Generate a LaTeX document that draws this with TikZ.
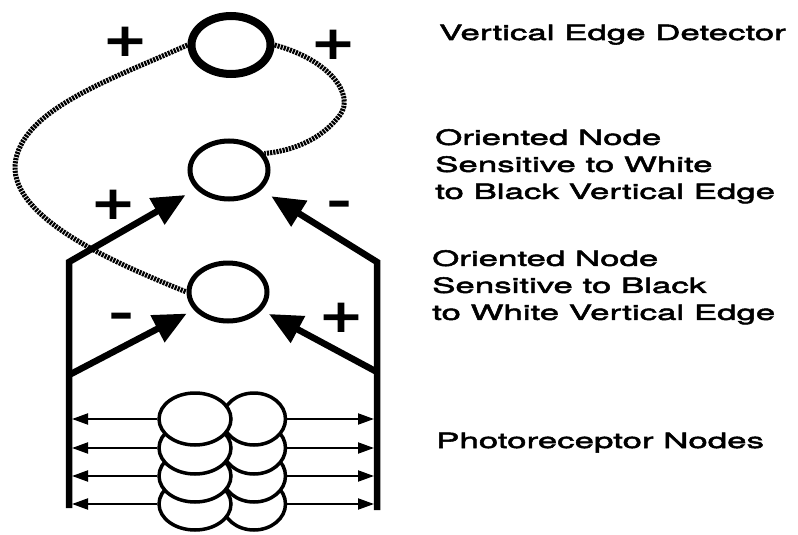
\documentclass[tikz,border=0pt]{standalone}
\usepackage{fontspec}
\setmainfont[FakeStretch=1.66, FakeBold=2.5]{TeX Gyre Heros}
\newfontfamily\signfont[FakeStretch=1.2, FakeBold=2.5]{TeX Gyre Heros}
\usepackage{tikz}
\usetikzlibrary{arrows.meta, shapes.geometric}

\begin{document}
\begin{tikzpicture}[x=1pt, y=-1pt, >={Triangle[length=33pt, width=29pt]},
  detector/.style={draw, ellipse, line width=8pt, minimum width=79pt, minimum height=58pt},
  oriented/.style={draw, ellipse, line width=5pt, minimum width=78pt, minimum height=58pt},
  receptor/.style={draw, ellipse, fill=white, line width=3.5pt, minimum height=52pt},
  feed/.style={line width=6.5pt, line join=miter, ->},
  relay/.style={line width=2pt, -{Triangle[length=16pt, width=11pt]}, shorten >=3pt},
  hatch/.style={line width=5pt, dash pattern=on 2.2pt off 1pt},
  sign/.style={font=\signfont\fontsize{62}{62}\selectfont, inner sep=0pt},
  caption/.style={inner sep=0pt, align=left, font=\fontsize{21}{27}\selectfont}]
  \useasboundingbox (0,0) rectangle (798,535);

  % Nodes
  \node[detector] (det) at (231,45) {};
  \node[oriented] (wb) at (229,170) {};
  \node[oriented] (bw) at (228,292) {};

  % Photoreceptors (bottom row first)
  \foreach \r/\y in {4/504, 3/476, 2/448, 1/419} {
    \node[receptor, minimum width=63pt] (pr\r) at (254,\y) {};
    \node[receptor, minimum width=72pt] (pl\r) at (195,\y) {};
  }

  % Frame corners
  \coordinate (ltop) at (69,262);
  \coordinate (lmid) at (69,375);
  \coordinate (lbot) at (69,508);
  \coordinate (rtop) at (377,262);
  \coordinate (rmid) at (377,372);
  \coordinate (rbot) at (377,510);

  % Photoreceptor outputs
  \foreach \r in {1,...,4} {
    \draw[relay] (pl\r.west) -- (pl\r.west -| lbot);
    \draw[relay] (pr\r.east) -- (pr\r.east -| rbot);
  }

  % Feed-forward paths
  \draw[feed, shorten >=12pt] (lbot) -- (ltop) -- (wb);
  \draw[feed, shorten >=12pt] (rbot) -- (rtop) -- (wb);
  \draw[feed, shorten >=8pt] (lmid) -- (bw);
  \draw[feed, shorten >=8pt] (rmid) -- (bw);

  % Feedback to the detector
  \draw[hatch] (det.west) .. controls (110,80) and (20,110) .. (15,165)
    .. controls (12,220) and (120,265) .. (bw.west);
  \draw[hatch] (det.east) .. controls (330,60) and (355,95) .. (340,115)
    .. controls (325,135) and (300,150) .. (wb.25);

  % Signs
  \node[sign] (sdl) at (125,42) {+};
  \node[sign] (sdr) at (333,45) {+};
  \node[sign] (swl) at (113,205) {+};
  \node[sign] (swr) at (339,211) {-};
  \node[sign] (sbl) at (121,323) {-};
  \node[sign] (sbr) at (341,318) {+};

  % Labels
  \node[caption, anchor=base west] (ldet) at (439,40) {Vertical Edge Detector};
  \node[caption, anchor=north west] (lwb) at (435,129)
    {Oriented Node\\Sensitive to White\\to Black Vertical Edge};
  \node[caption, anchor=north west] (lbw) at (432,250)
    {Oriented Node\\Sensitive to Black\\to White Vertical Edge};
  \node[caption, anchor=base west] (lpr) at (436,448) {Photoreceptor Nodes};
\end{tikzpicture}
\end{document}
